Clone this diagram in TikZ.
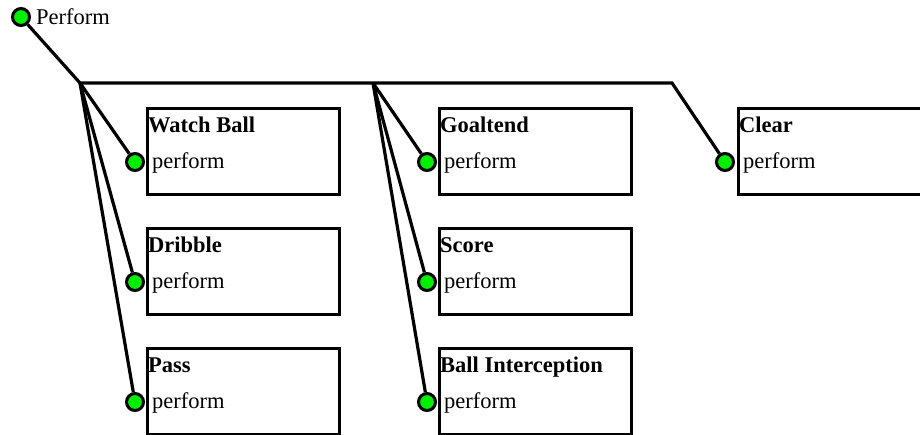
\documentclass[tikz,border=0pt]{standalone}
\usepackage{fontspec}
\setmainfont{Liberation Serif}
\usetikzlibrary{positioning}
\definecolor{portgreen}{RGB}{0,238,0}

\begin{document}
\begin{tikzpicture}[x=1pt,y=-1pt
    ,font=\fontsize{22.5}{26}\selectfont
    ,behaviour/.style={draw,line width=3.2pt,minimum width=192pt,minimum height=86pt,inner sep=0pt,anchor=north west}
    ,port/.style={circle,draw,fill=portgreen,line width=3pt,minimum size=17pt,inner sep=0pt}
    ,wire/.style={line width=3.2pt,line join=miter}
    ,title/.style={font=\fontsize{22.5}{26}\selectfont\bfseries,inner sep=0pt,anchor=base west}
    ,call/.style={inner sep=0pt,anchor=base west}]
  \clip (0,0) rectangle (920,434);

  % behaviour boxes
  \node[behaviour] (watch) at (146,107) {};
  \node[behaviour] (dribble) at (146,227) {};
  \node[behaviour] (pass) at (146,347) {};
  \node[behaviour] (goal) at (438,107) {};
  \node[behaviour] (score) at (438,227) {};
  \node[behaviour] (intercept) at (438,347) {};
  \node[behaviour] (clear) at (737,107) {};

  % titles and calls
  \node[title] at ([xshift=2pt,yshift=-25pt]watch.north west) {Watch Ball};
  \node[title] at ([xshift=2pt,yshift=-25pt]dribble.north west) {Dribble};
  \node[title] at ([xshift=2pt,yshift=-25pt]pass.north west) {Pass};
  \node[title] at ([xshift=2pt,yshift=-25pt]goal.north west) {Goaltend};
  \node[title] at ([xshift=2pt,yshift=-25pt]score.north west) {Score};
  \node[title] at ([xshift=2pt,yshift=-25pt]intercept.north west) {Ball Interception};
  \node[title] at ([xshift=2pt,yshift=-25pt]clear.north west) {Clear};
  \node[call] at ([xshift=6pt,yshift=-61pt]watch.north west) {perform};
  \node[call] at ([xshift=6pt,yshift=-61pt]dribble.north west) {perform};
  \node[call] at ([xshift=6pt,yshift=-61pt]pass.north west) {perform};
  \node[call] at ([xshift=6pt,yshift=-61pt]goal.north west) {perform};
  \node[call] at ([xshift=6pt,yshift=-61pt]score.north west) {perform};
  \node[call] at ([xshift=6pt,yshift=-61pt]intercept.north west) {perform};
  \node[call] at ([xshift=6pt,yshift=-61pt]clear.north west) {perform};

  % ports
  \node[port] (perform) at (21,17) {};
  \node[call] (perform-l) at (36,24) {Perform};
  \node[port] (watch-p) at ([xshift=-11pt,yshift=-55pt]watch.north west) {};
  \node[port] (dribble-p) at ([xshift=-11pt,yshift=-55pt]dribble.north west) {};
  \node[port] (pass-p) at ([xshift=-11pt,yshift=-55pt]pass.north west) {};
  \node[port] (goal-p) at ([xshift=-11pt,yshift=-55pt]goal.north west) {};
  \node[port] (score-p) at ([xshift=-11pt,yshift=-55pt]score.north west) {};
  \node[port] (intercept-p) at ([xshift=-11pt,yshift=-55pt]intercept.north west) {};
  \node[port] (clear-p) at ([xshift=-12pt,yshift=-55pt]clear.north west) {};

  % wiring
  \coordinate (root) at (80,83);
  \coordinate (mid) at (373,83);
  \coordinate (bend) at (672,83);
  \draw[wire] (perform) -- (root) -- (bend) -- (clear-p);
  \draw[wire] (root) -- (watch-p);
  \draw[wire] (root) -- (dribble-p);
  \draw[wire] (root) -- (pass-p);
  \draw[wire] (mid) -- (goal-p);
  \draw[wire] (mid) -- (score-p);
  \draw[wire] (mid) -- (intercept-p);
\end{tikzpicture}
\end{document}
